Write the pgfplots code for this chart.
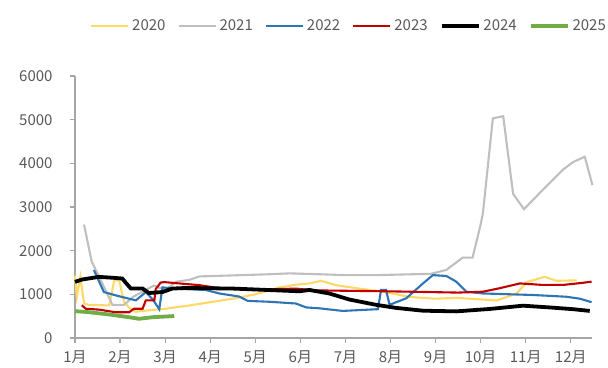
\documentclass[border=0pt]{standalone}
\usepackage{pgfplots}
\pgfplotsset{compat=1.18}
\usepackage{fontspec}
\setmainfont{Noto Sans CJK SC}
\definecolor{c20}{HTML}{FFD966}
\definecolor{c21}{HTML}{BFBFBF}
\definecolor{c22}{HTML}{2E75B6}
\definecolor{c23}{HTML}{C00000}
\definecolor{c24}{HTML}{000000}
\definecolor{c25}{HTML}{70AD47}
\definecolor{axg}{HTML}{A6A6A6}
\definecolor{txg}{HTML}{595959}
\begin{document}
\begin{tikzpicture}
\useasboundingbox (0,0) rectangle (608bp,368bp);
\begin{axis}[
  at={(75bp,30bp)}, anchor=south west,
  scale only axis, width=517bp, height=262bp,
  xmin=1, xmax=12.47, ymin=0, ymax=6000,
  axis x line*=bottom, axis y line*=left,
  axis line style={axg, line width=1.2bp},
  every tick/.style={axg, line width=1.2bp},
  tick align=outside, major tick length=5bp,
  xtick={1,...,12},
  xticklabels={1月,2月,3月,4月,5月,6月,7月,8月,9月,10月,11月,12月},
  ytick={0,1000,...,6000},
  tick label style={font=\fontsize{15bp}{18bp}\selectfont, text=txg},
  xticklabel shift=4bp,
  yticklabel shift=14bp,
  yticklabel style={/pgf/number format/assume math mode=true, /pgf/number format/set thousands separator={}},
  clip=false,
  legend columns=6,
  legend style={at={(0.023,1.19)}, anchor=west, draw=none, fill=none,
    font=\fontsize{15bp}{18bp}\selectfont, text=txg,
    /tikz/every odd column/.append style={column sep=3bp},
    /tikz/every even column/.append style={column sep=12bp},
    nodes={inner sep=0pt}},
  legend image code/.code={\draw[#1] (0bp,0bp) -- (37bp,0bp);},
]
\addplot[c20, line width=2.1bp] coordinates {
(1.0,1430)(1.04,950)(1.12,1400)(1.2,790)(1.3,760)(1.6,750)(1.76,746)(1.87,1320)(1.98,1320)(2.09,820)(2.2,700)(2.35,600)(2.5,620)
(3.0,670)(3.5,740)(4.0,820)(4.5,900)(5.0,1000)(5.5,1150)(5.9,1220)(6.2,1250)(6.46,1310)(6.79,1210)(7.31,1130)(7.9,1050)(8.42,940)
(9.0,900)(9.46,920)(9.76,900)(10.35,860)(10.79,1010)(11.02,1280)(11.42,1400)(11.68,1310)(12.13,1320)};
\addlegendentry{2020}
\addplot[c21, line width=2.1bp] coordinates {
(1.2,2600)(1.37,1750)(1.57,1330)(1.83,760)(2.09,760)(2.3,950)(2.75,1200)(3.0,1100)(3.25,1290)(3.53,1330)(3.76,1410)(5.31,1460)
(5.76,1480)(6.42,1460)(7.0,1440)(7.68,1440)(8.9,1470)(9.24,1560)(9.6,1840)(9.82,1840)(10.0,2600)(10.05,2860)(10.27,5030)(10.5,5080)
(10.72,3300)(10.96,2950)(11.46,3480)(11.83,3860)(12.05,4030)(12.31,4150)(12.48,3500)};
\addlegendentry{2021}
\addplot[c22, line width=2.1bp] coordinates {
(1.42,1555)(1.64,1053)(1.9,977)(2.35,862)(2.57,1050)(2.72,890)(2.87,660)(2.94,1160)(3.2,1130)(3.9,1100)(4.2,1020)(4.64,950)
(4.83,850)(5.31,830)(5.9,790)(6.13,700)(6.42,680)(6.94,620)(7.72,660)(7.79,1100)(7.9,1100)(7.98,760)(8.35,910)(8.72,1250)
(8.94,1440)(9.24,1420)(9.46,1290)(9.68,1060)(10.05,1020)(11.16,985)(11.9,945)(12.2,900)(12.46,820)};
\addlegendentry{2022}
\addplot[c23, line width=2.1bp] coordinates {
(1.15,750)(1.24,670)(1.53,650)(1.9,590)(2.2,590)(2.31,670)(2.5,670)(2.57,860)(2.76,860)(2.79,1120)(2.9,1270)(2.98,1280)
(3.31,1250)(3.76,1210)(4.2,1140)(4.5,1130)(5.0,1110)(5.9,1130)(6.35,1090)(7.9,1070)(9.5,1040)(10.05,1060)(10.42,1140)
(10.87,1250)(11.38,1215)(11.83,1215)(12.27,1265)(12.46,1290)};
\addlegendentry{2023}
\addplot[c24, line width=3.8bp] coordinates {
(1.0,1285)(1.16,1340)(1.53,1400)(1.87,1377)(2.05,1362)(2.11,1285)(2.24,1132)(2.5,1132)(2.64,1030)(2.94,1053)(3.16,1132)
(3.46,1146)(4.5,1132)(5.98,1070)(6.2,1100)(6.64,1020)(7.09,880)(7.68,760)(8.12,690)(8.72,625)(9.46,610)(10.2,665)(10.94,740)
(11.53,700)(12.05,660)(12.42,620)};
\addlegendentry{2024}
\addplot[c25, line width=3.8bp] coordinates {
(1.0,615)(1.31,591)(1.76,538)(2.2,476)(2.42,440)(2.72,476)(3.16,500)(3.2,510)};
\addlegendentry{2025}
\end{axis}
\end{tikzpicture}
\end{document}
